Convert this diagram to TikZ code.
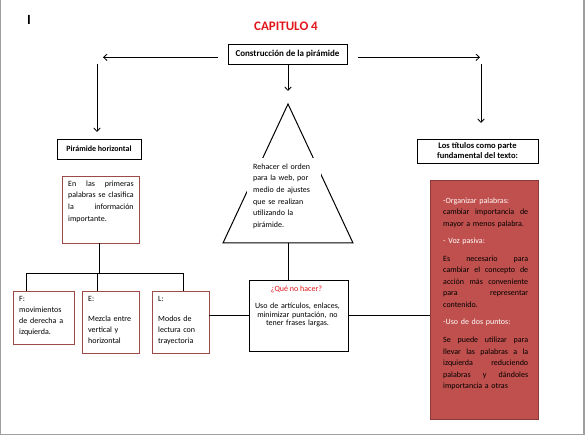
\documentclass[tikz,border=0pt]{standalone}
\usepackage{fontspec}
\setmainfont{Carlito}
\usetikzlibrary{arrows.meta}
\definecolor{redfill}{HTML}{C0504D}
\definecolor{redline}{HTML}{8C3A37}
\definecolor{boxline}{HTML}{9E4A47}
\definecolor{titlered}{HTML}{E3161B}
\definecolor{pagegray}{HTML}{A0A0A0}
\newcommand{\J}[1]{\makebox[\hsize][s]{\spaceskip=0.25em plus 1fil\relax #1}}
\begin{document}
\begin{tikzpicture}[x=1pt,y=-1pt,
  blackbox/.style={draw=black, line width=0.9pt, inner sep=0pt},
  redbox/.style={draw=boxline, line width=0.9pt, inner sep=0pt},
  fillbox/.style={draw=redline, fill=redfill, line width=0.9pt, inner sep=0pt},
  txt/.style={anchor=north west, inner sep=0pt, align=left},
  conn/.style={line width=1pt},
  arr/.style={line width=0.8pt, -{Straight Barb[length=3.5pt,width=6.5pt]}},
]
\fill[white] (0,0) rectangle (585,435);
\useasboundingbox (0,0) rectangle (585,435);
\draw[pagegray, line width=1.4pt] (0.7,0) -- (0.7,434.2) -- (583.8,434.2) -- (583.8,0);

% title and cursor
\node[inner sep=0pt, font=\bfseries\fontsize{14}{14}\selectfont] (cursor) at (29,20) {I};
\node[inner sep=0pt, font=\bfseries\fontsize{13}{15}\selectfont, text=titlered] (title) at (286,26.5) {CAPITULO 4};

% top box
\node[blackbox, minimum width=119pt, minimum height=20pt, font=\bfseries\fontsize{9}{10}\selectfont] (top) at (287.5,54.2) {Construcción de la pirámide};

% arrows
\coordinate (aL1) at (218,57.3); \coordinate (aL2) at (103,57.3);
\coordinate (aR1) at (358,57.3); \coordinate (aR2) at (480,57.3);
\coordinate (aC1) at (288,65);   \coordinate (aC2) at (288,91);
\coordinate (aLV1) at (97,64);   \coordinate (aLV2) at (97,132);
\coordinate (aRV1) at (481,64);  \coordinate (aRV2) at (481,123);
\draw[arr] (aL1) -- (aL2);
\draw[arr] (aR1) -- (aR2);
\draw[arr] (aC1) -- (aC2);
\draw[arr] (aLV1) -- (aLV2);
\draw[arr] (aRV1) -- (aRV2);

% left column
\node[blackbox, minimum width=84pt, minimum height=20pt, font=\bfseries\fontsize{8}{10}\selectfont] (ph) at (99,149) {Pirámide horizontal};
\node[redbox, minimum width=77pt, minimum height=67pt] (enlas) at (100.5,209.5) {};
\node[txt, text width=65.5pt, font=\fontsize{8}{11.7}\selectfont] (enlastxt) at (68,177.8)
  {\strut\J{En las primeras}\\\J{palabras se clasifica}\\\J{la información}\\importante.};

\node[redbox, minimum width=61pt, minimum height=53pt] (F) at (43.5,317.5) {};
\node[redbox, minimum width=57pt, minimum height=62pt] (E) at (110.5,322) {};
\node[redbox, minimum width=57pt, minimum height=62pt] (L) at (180.5,322) {};
\node[txt, text width=44pt, font=\fontsize{8}{11}\selectfont] (Ftxt) at (19,293.2)
  {\strut F:\\movimientos\\\J{de derecha a}\\izquierda.};
\node[txt, text width=48pt, font=\fontsize{8}{11}\selectfont] (Etxt) at (88,293.2)
  {\strut E:\\[9pt]Mezcla entre\\vertical y\\horizontal};
\node[txt, text width=48pt, font=\fontsize{8}{11}\selectfont] (Ltxt) at (158,293.2)
  {\strut L:\\[9pt]Modos de\\lectura con\\trayectoria};

\coordinate (bus) at (99,273);
\coordinate (dF) at (26,273);
\coordinate (dE) at (97,273);
\coordinate (dL) at (183,273);
\draw[conn] (bus |- enlas.south) -- (bus);
\draw[conn] (dF) -- (dL);
\draw[conn] (dF) -- (dF |- F.north);
\draw[conn] (dE) -- (dE |- E.north);
\draw[conn] (dL) -- (dL |- L.north);

% pyramid
\coordinate (apex) at (288,104);
\coordinate (triR) at (353,243);
\coordinate (triL) at (223,243);
\coordinate (tribase) at (288,243);
\draw[conn, line join=miter] (apex) -- (triR) -- (triL) -- cycle;
\node[txt, fill=white, inner xsep=6pt, inner ysep=3pt, text width=62pt, font=\fontsize{8}{11.6}\selectfont] (tritxt) at (247,157.9)
  {\strut Rehacer el orden\\para la web, por\\medio de ajustes\\que se realizan\\utilizando la\\pirámide.};

% centre box
\node[blackbox, minimum width=99pt, minimum height=71pt] (que) at (298.5,315.5) {};
\node[anchor=base, inner sep=0pt, text=titlered, font=\fontsize{8}{9.6}\selectfont] (quetit) at (296.5,291) {¿Qué no hacer?};
\node[anchor=north, inner sep=0pt, text width=95pt, align=center, font=\fontsize{8}{8.3}\selectfont] (quebody) at (297.5,302.9)
  {\strut Uso de artículos, enlaces,\\minimizar puntación, no\\tener frases largas.};
\draw[conn] (tribase) -- (tribase |- que.north);
\draw[conn] (que.west -| L.east) -- (que.west);

% right column
\node[blackbox, minimum width=121pt, minimum height=24pt, align=center, font=\bfseries\fontsize{8.5}{10}\selectfont] (tit) at (477.5,151)
  {Los títulos como parte\\fundamental del texto:};
\node[fillbox, minimum width=108pt, minimum height=239pt] (red) at (484,299.5) {};
\draw[conn] (que.east) -- (que.east -| red.west);
\node[txt, text width=85pt, font=\fontsize{8}{11.5}\selectfont] (redtxt) at (443,195)
  {\strut\textcolor{white}{-Organizar palabras:}\\
   \J{cambiar importancia de}\\
   mayor a menos palabra.\\[6pt]
   \textcolor{white}{- Voz pasiva:}\\[6pt]
   \J{Es necesario para}\\
   \J{cambiar el concepto de}\\
   \J{acción más conveniente}\\
   \J{para representar}\\
   contenido.\\[6pt]
   \textcolor{white}{-Uso de dos puntos:}\\[6.5pt]
   \J{Se puede utilizar para}\\
   \J{llevar las palabras a la}\\
   \J{izquierda reduciendo}\\
   \J{palabras y dándoles}\\
   importancia a otras};
\end{tikzpicture}
\end{document}
